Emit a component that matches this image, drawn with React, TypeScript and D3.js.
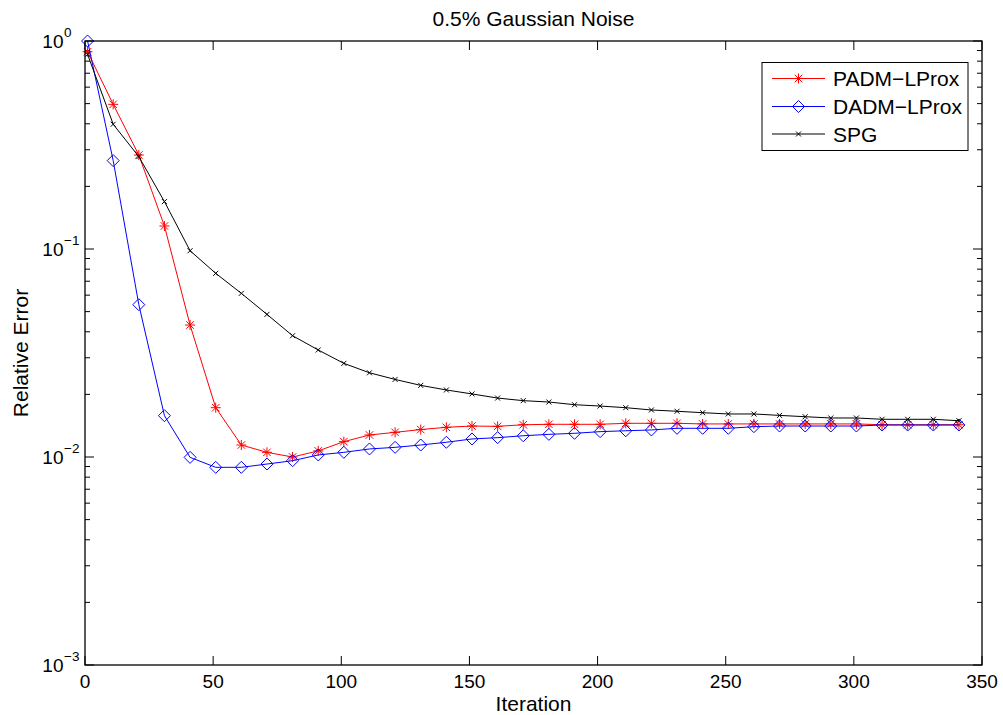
import React from "react";
import * as d3 from "d3";

const iterations = [1, 11, 21, 31, 41, 51, 61, 71, 81, 91, 101, 111, 121, 131, 141, 151, 161, 171, 181, 191, 201, 211, 221, 231, 241, 251, 261, 271, 281, 291, 301, 311, 321, 331, 341];

const padmValues = [0.888, 0.496, 0.283, 0.129, 0.0431, 0.01726, 0.01142, 0.01053, 0.0100, 0.0107, 0.01185, 0.01276, 0.01314, 0.01355, 0.01389, 0.01409, 0.01404, 0.01429, 0.01436, 0.01436, 0.01436, 0.01452, 0.01452, 0.01452, 0.01442, 0.01442, 0.01442, 0.01442, 0.01442, 0.01442, 0.01442, 0.01429, 0.01429, 0.01429, 0.01429];

const dadmValues = [1.0, 0.266, 0.054, 0.0158, 0.00996, 0.00892, 0.00892, 0.00925, 0.0096, 0.01023, 0.01053, 0.01093, 0.01113, 0.01142, 0.01177, 0.01221, 0.01239, 0.01265, 0.01285, 0.013, 0.01324, 0.01337, 0.01349, 0.01374, 0.01374, 0.01374, 0.01399, 0.01409, 0.01409, 0.01409, 0.01409, 0.01425, 0.01425, 0.01425, 0.01425];

const spgValues = [0.863, 0.398, 0.278, 0.169, 0.0981, 0.0764, 0.0612, 0.0485, 0.0383, 0.0327, 0.0282, 0.0254, 0.0236, 0.0221, 0.021, 0.0201, 0.0192, 0.01866, 0.01838, 0.01784, 0.01758, 0.01726, 0.01683, 0.01659, 0.01633, 0.0161, 0.0161, 0.01585, 0.01562, 0.0154, 0.0154, 0.01518, 0.01518, 0.01518, 0.01494];

const xTicks = [0, 50, 100, 150, 200, 250, 300, 350];
const yDecades = [0, -1, -2, -3];
const seriesNames = ["PADM\u2212LProx", "DADM\u2212LProx", "SPG"];
const titleText = "0.5% Gaussian Noise";
const xLabel = "Iteration";
const yLabel = "Relative Error";

const FONT = "'Liberation Sans', Arial, Helvetica, sans-serif";

type MarkerKind = "star" | "diamond" | "x";

function Marker({ kind, x, y, color }: { kind: MarkerKind; x: number; y: number; color: string }) {
  if (kind === "star") {
    const r = 5;
    const d = r * 0.75;
    return (
      <g stroke={color} strokeWidth={1} fill="none">
        <line x1={x - r} y1={y} x2={x + r} y2={y} />
        <line x1={x} y1={y - r} x2={x} y2={y + r} />
        <line x1={x - d} y1={y - d} x2={x + d} y2={y + d} />
        <line x1={x - d} y1={y + d} x2={x + d} y2={y - d} />
      </g>
    );
  }
  if (kind === "diamond") {
    const r = 6;
    return (
      <path
        d={`M${x},${y - r}L${x + r},${y}L${x},${y + r}L${x - r},${y}Z`}
        stroke={color}
        strokeWidth={1}
        fill="none"
      />
    );
  }
  const r = 2.5;
  return (
    <g stroke={color} strokeWidth={1}>
      <line x1={x - r} y1={y - r} x2={x + r} y2={y + r} />
      <line x1={x - r} y1={y + r} x2={x + r} y2={y - r} />
    </g>
  );
}

export default function App() {
  const W = 1003;
  const H = 715;
  const left = 85;
  const right = 982;
  const top = 41;
  const bottom = 665;

  const x = d3.scaleLinear().domain([0, 350]).range([left, right]);
  const y = d3.scaleLog().domain([1e-3, 1]).range([bottom, top]);

  const series = [
    { name: seriesNames[0], values: padmValues, color: "#ff0000", marker: "star" as MarkerKind },
    { name: seriesNames[1], values: dadmValues, color: "#0000ff", marker: "diamond" as MarkerKind },
    { name: seriesNames[2], values: spgValues, color: "#000000", marker: "x" as MarkerKind },
  ];

  const line = d3
    .line<number>()
    .x((_, i) => x(iterations[i]))
    .y((v) => y(v));

  const minorTicks: number[] = [];
  for (let e = -3; e < 0; e++) {
    for (let m = 2; m <= 9; m++) minorTicks.push(m * Math.pow(10, e));
  }

  const majorLen = 9;
  const minorLen = 5;

  const legendX = 762;
  const legendY = 62.5;
  const legendW = 206;
  const legendH = 88;
  const rowYs = [78.5, 106.5, 134];

  return (
    <svg
      width={W}
      height={H}
      style={{ position: "absolute", left: 0, top: 0, background: "#fff" }}
      fontFamily={FONT}
    >
      <rect x={0} y={0} width={W} height={H} fill="#fff" />

      <g stroke="#000" strokeWidth={1}>
        {xTicks.map((t) => (
          <g key={"xt" + t}>
            <line x1={x(t)} x2={x(t)} y1={bottom} y2={bottom - majorLen} />
            <line x1={x(t)} x2={x(t)} y1={top} y2={top + majorLen} />
          </g>
        ))}
        {yDecades.map((e) => (
          <g key={"yt" + e}>
            <line x1={left} x2={left + majorLen} y1={y(Math.pow(10, e))} y2={y(Math.pow(10, e))} />
            <line x1={right} x2={right - majorLen} y1={y(Math.pow(10, e))} y2={y(Math.pow(10, e))} />
          </g>
        ))}
        {minorTicks.map((t) => (
          <g key={"ym" + t}>
            <line x1={left} x2={left + minorLen} y1={y(t)} y2={y(t)} />
            <line x1={right} x2={right - minorLen} y1={y(t)} y2={y(t)} />
          </g>
        ))}
      </g>

      {series.map((s) => (
        <g key={s.name}>
          <path d={line(s.values) || ""} fill="none" stroke={s.color} strokeWidth={1} />
          {s.values.map((v, i) => (
            <Marker key={i} kind={s.marker} x={x(iterations[i])} y={y(v)} color={s.color} />
          ))}
        </g>
      ))}

      <rect x={left} y={top} width={right - left} height={bottom - top} fill="none" stroke="#000" strokeWidth={1.3} />

      {xTicks.map((t) => (
        <text key={"xl" + t} x={x(t)} y={688} textAnchor="middle" fontSize={19} fill="#000">
          {t}
        </text>
      ))}

      {yDecades.map((e) => (
        <g key={"yl" + e}>
          <text x={63.5} y={y(Math.pow(10, e)) + 7} textAnchor="end" fontSize={19} fill="#000">
            10
          </text>
          <text x={64} y={y(Math.pow(10, e)) - 4.5} textAnchor="start" fontSize={13.5} fill="#000">
            {e === 0 ? "0" : "\u2212" + Math.abs(e)}
          </text>
        </g>
      ))}

      <text x={(left + right) / 2} y={711} textAnchor="middle" fontSize={21} fill="#000">
        {xLabel}
      </text>
      <text
        transform={`translate(28,${(top + bottom) / 2}) rotate(-90)`}
        textAnchor="middle"
        fontSize={21}
        fill="#000"
      >
        {yLabel}
      </text>
      <text x={(left + right) / 2} y={26} textAnchor="middle" fontSize={21} fill="#000">
        {titleText}
      </text>

      <rect x={legendX} y={legendY} width={legendW} height={legendH} fill="#fff" stroke="#000" strokeWidth={1} />
      {series.map((s, i) => (
        <g key={"lg" + s.name}>
          <line x1={772} x2={825} y1={rowYs[i]} y2={rowYs[i]} stroke={s.color} strokeWidth={1} />
          <Marker kind={s.marker} x={798.5} y={rowYs[i]} color={s.color} />
          <text x={833} y={rowYs[i] + 7.5} fontSize={21} fill="#000">
            {s.name}
          </text>
        </g>
      ))}
    </svg>
  );
}
